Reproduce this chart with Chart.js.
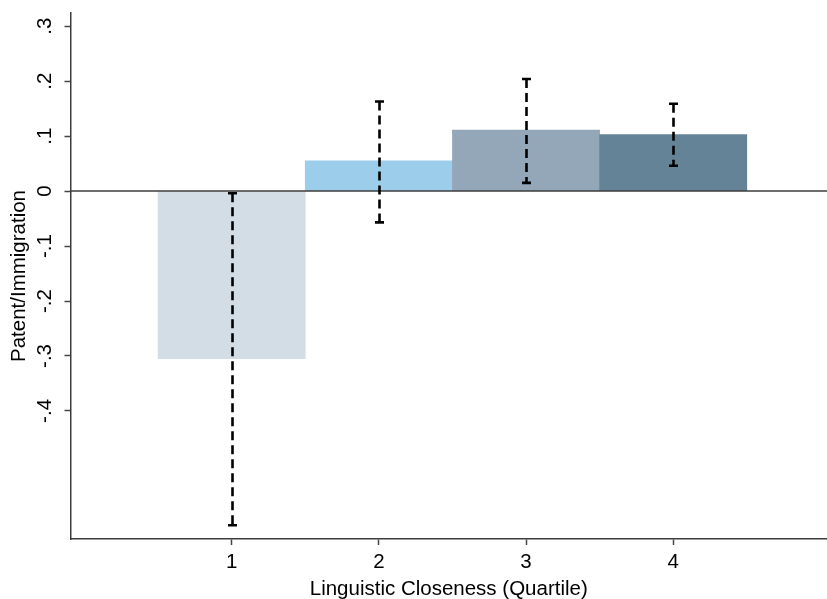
<!DOCTYPE html>
<html>
<head>
<meta charset="utf-8">
<script src="https://cdn.jsdelivr.net/npm/chart.js@4/dist/chart.umd.min.js"></script>
<style>
  html, body { margin: 0; padding: 0; background: #fff; }
  #wrap { width: 827px; height: 599px; }
</style>
</head>
<body>
<div id="wrap"><canvas id="barChart"></canvas></div>
<script>
// data
const quartiles = [1, 2, 3, 4];
const estimates = [-0.305, 0.055, 0.111, 0.103];
const ciHigh = [-0.004, 0.163, 0.204, 0.159];
const ciLow = [-0.608, -0.057, 0.015, 0.046];
const barColors = ['#d3dde6', '#9ccdeb', '#94a7b8', '#648396'];
const yTicks = [-0.4, -0.3, -0.2, -0.1, 0, 0.1, 0.2, 0.3];

const fontFamily = '"Liberation Sans", Arial, Helvetica, sans-serif';

// strip the leading zero like the original: .3, -.1
const fmt = v => {
    if (Math.abs(v) < 1e-9) return '0';
    return v.toFixed(1).replace('0.', '.');
};

// dashed error bars + zero line
const errorBars = {
    id: 'errorBars',
    afterDatasetsDraw(chart) {
        const { ctx, scales: { x, y }, chartArea } = chart;
        ctx.save();
        // zero line
        const y0 = y.getPixelForValue(0);
        ctx.strokeStyle = '#3c3c3c';
        ctx.lineWidth = 1.5;
        ctx.beginPath();
        ctx.moveTo(chartArea.left, y0);
        ctx.lineTo(chartArea.right, y0);
        ctx.stroke();

        ctx.strokeStyle = '#000';
        quartiles.forEach((q, i) => {
            const px = Math.round(x.getPixelForValue(q)) + 0.5;
            const hi = y.getPixelForValue(ciHigh[i]);
            const lo = y.getPixelForValue(ciLow[i]);
            ctx.lineWidth = 2.6;
            ctx.setLineDash([9, 5]);
            ctx.beginPath();
            ctx.moveTo(px, hi);
            ctx.lineTo(px, lo);
            ctx.stroke();
            ctx.setLineDash([]);
            ctx.lineWidth = 2.6;
            ctx.beginPath();
            ctx.moveTo(px - 4.5, hi);
            ctx.lineTo(px + 4.5, hi);
            ctx.moveTo(px - 4.5, lo);
            ctx.lineTo(px + 4.5, lo);
            ctx.stroke();
        });
        ctx.restore();
    }
};

Chart.defaults.font.family = fontFamily;
Chart.defaults.color = '#000';

new Chart(document.getElementById('barChart'), {
    type: 'bar',
    data: {
        datasets: [{
            data: quartiles.map((q, i) => ({ x: q, y: estimates[i] })),
            backgroundColor: barColors,
            borderWidth: 0,
            barPercentage: 1,
            categoryPercentage: 1
        }]
    },
    options: {
        responsive: true,
        maintainAspectRatio: false,
        animation: false,
        layout: { padding: { top: 13, right: 0, left: 0, bottom: 0 } },
        plugins: {
            legend: { display: false },
            tooltip: { enabled: false }
        },
        scales: {
            x: {
                type: 'linear',
                offset: false,
                min: -0.095,
                max: 5.045,
                afterBuildTicks: s => { s.ticks = quartiles.map(v => ({ value: v })); },
                afterFit: s => { s.height = 60; s.paddingLeft = 0; s.paddingRight = 0; },
                grid: { offset: false, drawOnChartArea: false, tickLength: 6, color: '#444', tickWidth: 1.5 },
                border: { color: '#3c3c3c', width: 1.5 },
                ticks: { font: { size: 20.5 }, padding: 5, maxRotation: 0, autoSkip: false },
                title: {
                    display: true,
                    text: 'Linguistic Closeness (Quartile)',
                    font: { size: 20.5 },
                    padding: { top: 0, bottom: -3 }
                }
            },
            y: {
                min: -0.633,
                max: 0.324,
                afterBuildTicks: s => { s.ticks = yTicks.map(v => ({ value: v })); },
                afterFit: s => { s.width = 70.5; s.paddingTop = 0; s.paddingBottom = 0; },
                grid: { drawOnChartArea: false, tickLength: 6, color: '#444', tickWidth: 1.5 },
                border: { color: '#3c3c3c', width: 1.5 },
                ticks: {
                    font: { size: 20.5 },
                    minRotation: 90,
                    maxRotation: 90,
                    crossAlign: 'center',
                    padding: 7,
                    callback: v => fmt(v)
                },
                title: {
                    display: true,
                    text: 'Patent/Immigration',
                    font: { size: 20.5 },
                    padding: { top: 7, bottom: 0 }
                }
            }
        }
    },
    plugins: [errorBars]
});
</script>
</body>
</html>
